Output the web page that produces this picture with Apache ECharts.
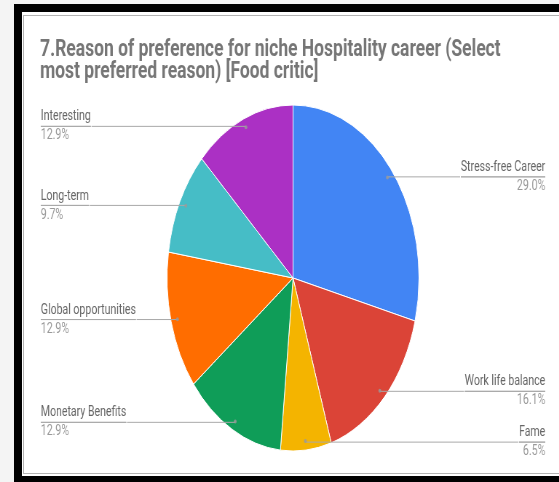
<!DOCTYPE html>
<html>
<head>
<meta charset="utf-8">
<script src="https://cdn.jsdelivr.net/npm/echarts@6/dist/echarts.min.js"></script>
<style>
  html, body { margin: 0; padding: 0; width: 559px; height: 482px; overflow: hidden; background: #f4f4f4; }
  #frame { position: absolute; left: 14px; top: 4px; width: 545px; height: 478px; background: #000; }
  #sheet { position: absolute; left: 22px; top: 12px; width: 537px; height: 464px; background: #fff; }
  #rule  { position: absolute; left: 23px; top: 15px; width: 560px; height: 459px; box-sizing: border-box;
           border: 1.4px solid #b3b3b3; border-right: none; }
  /* the drawing is laid out wide and squeezed horizontally, which turns the pie into an ellipse */
  #chart { position: absolute; left: 0; top: 0; width: 768px; height: 482px;
           transform: scaleX(0.728); transform-origin: 0 0; }
</style>
</head>
<body>
<div id="frame"></div>
<div id="sheet"></div>
<div id="rule"></div>
<div id="chart"></div>
<script>
// Survey answers: share of respondents per reason (percent)
const categories = [
  'Stress-free Career',
  'Work life balance',
  'Fame',
  'Monetary Benefits',
  'Global opportunities',
  'Long-term',
  'Interesting'
];
const shares = [29.0, 16.1, 6.5, 12.9, 12.9, 9.7, 12.9];
const sliceColors = ['#4285f4', '#db4437', '#f4b400', '#0f9d58', '#ff6d00', '#46bdc6', '#ab30c4'];
const titleLines = [
  '7.Reason of preference for niche Hospitality career (Select',
  'most preferred reason) [Food critic]'
];

// geometry in the un-squeezed drawing space
const CX = 402.5, CY = 278;     // pie centre
const R = 173;                  // pie radius
const R_ANCHOR = 164;           // where label leader lines start
const VIEW_LEFT = 56, VIEW_RIGHT = 19;

const total = shares.reduce((a, b) => a + b, 0);

// leader-line anchor dots sit on each slice's middle angle
let running = 0;
const anchorPoints = shares.map(v => {
  const mid = running + v / 2;
  running += v;
  return [1, mid];
});

const chart = echarts.init(document.getElementById('chart'), null, { renderer: 'canvas' });

const fontFamily = 'Roboto, "Noto Sans", sans-serif';

chart.setOption({
  animation: false,
  title: {
    text: titleLines.join('\n'),
    left: 55,
    top: 39,
    padding: 0,
    textStyle: {
      fontFamily,
      fontSize: 24,
      fontWeight: 'bold',
      lineHeight: 22,
      color: '#767676'
    }
  },
  polar: { center: [CX, CY], radius: R_ANCHOR },
  angleAxis: {
    type: 'value', min: 0, max: total, startAngle: 90, clockwise: true,
    show: false, splitLine: { show: false }, axisLine: { show: false }
  },
  radiusAxis: { type: 'value', min: 0, max: 1, show: false, splitLine: { show: false } },
  series: [
    {
      // coloured slices
      type: 'pie',
      left: VIEW_LEFT, right: VIEW_RIGHT, top: 0, bottom: 0,
      center: [CX - VIEW_LEFT, CY],
      radius: R,
      startAngle: 90,
      clockwise: true,
      silent: true,
      z: 1,
      label: { show: false },
      labelLine: { show: false },
      itemStyle: { borderColor: '#ffffff', borderWidth: 1 },
      data: categories.map((name, i) => ({
        name, value: shares[i], itemStyle: { color: sliceColors[i] }
      }))
    },
    {
      // labels with leader lines, laid out on an invisible ring
      type: 'pie',
      left: VIEW_LEFT, right: VIEW_RIGHT, top: 0, bottom: 0,
      center: [CX - VIEW_LEFT, CY],
      radius: R_ANCHOR,
      startAngle: 90,
      clockwise: true,
      silent: true,
      z: 3,
      itemStyle: { color: 'rgba(0,0,0,0)' },
      label: {
        show: true,
        position: 'outside',
        alignTo: 'edge',
        edgeDistance: 0,
        distanceToLabelLine: 0,
        formatter: p => `{name|${p.name}}\n{hr|}\n{pct|${p.value.toFixed(1)}%}`,
        rich: {
          name: { fontFamily, fontSize: 14.5, lineHeight: 19, color: '#666666' },
          hr: { width: '100%', height: 0, borderWidth: 1, borderColor: '#a9a9a9' },
          pct: { fontFamily, fontSize: 14.5, lineHeight: 19, color: '#999999' }
        }
      },
      labelLine: {
        show: true,
        length: 1,
        length2: 10,
        lineStyle: { color: '#a9a9a9', width: 1 }
      },
      data: categories.map((name, i) => ({ name, value: shares[i] }))
    },
    {
      // small dots where the leader lines begin
      type: 'scatter',
      coordinateSystem: 'polar',
      symbol: 'circle',
      symbolSize: 4,
      silent: true,
      z: 4,
      itemStyle: { color: '#9a9a9a' },
      data: anchorPoints
    }
  ]
});
</script>
</body>
</html>
